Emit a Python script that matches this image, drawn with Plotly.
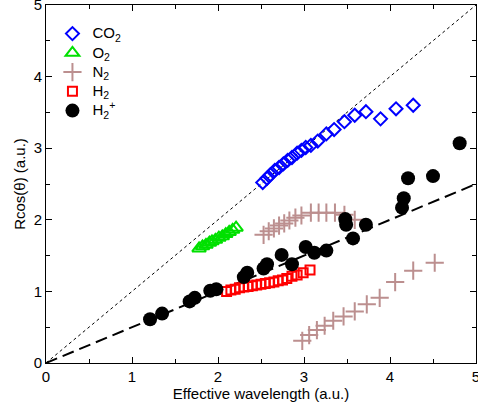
import plotly.graph_objects as go

co2_x = [2.52, 2.57, 2.61, 2.66, 2.71, 2.76, 2.81, 2.86, 2.92, 2.97, 3.02, 3.08, 3.16, 3.26, 3.35, 3.47, 3.59, 3.72, 3.89, 4.07, 4.27]
co2_y = [2.52, 2.58, 2.63, 2.69, 2.73, 2.78, 2.83, 2.87, 2.93, 2.97, 3.01, 3.04, 3.10, 3.20, 3.26, 3.37, 3.46, 3.51, 3.41, 3.55, 3.60]

o2_x = [1.78, 1.82, 1.86, 1.90, 1.93, 1.97, 2.01, 2.05, 2.09, 2.13, 2.17, 2.21]
o2_y = [1.60, 1.63, 1.65, 1.68, 1.70, 1.72, 1.75, 1.77, 1.80, 1.83, 1.86, 1.89]

n2_x = [2.53, 2.59, 2.65, 2.71, 2.77, 2.83, 2.90, 2.97, 3.08, 3.17, 3.26, 3.36, 3.47, 3.59,
        2.98, 3.06, 3.15, 3.24, 3.34, 3.46, 3.59, 3.73, 3.88, 4.06, 4.27, 4.52]
n2_y = [1.79, 1.84, 1.88, 1.92, 1.95, 1.99, 2.03, 2.06, 2.10, 2.10, 2.10, 2.10, 2.07, 2.00,
        0.31, 0.39, 0.46, 0.52, 0.59, 0.65, 0.72, 0.82, 0.91, 1.13, 1.29, 1.40]

h2_x = [2.10, 2.15, 2.20, 2.25, 2.30, 2.35, 2.40, 2.45, 2.50, 2.55, 2.60, 2.65, 2.70, 2.75, 2.80, 2.86, 2.92, 2.99, 3.07]
h2_y = [1.00, 1.02, 1.03, 1.05, 1.06, 1.07, 1.08, 1.09, 1.10, 1.11, 1.12, 1.13, 1.15, 1.16, 1.18, 1.21, 1.23, 1.26, 1.30]

h2p_x = [1.21, 1.35, 1.67, 1.73, 1.91, 1.98, 2.30, 2.34, 2.53, 2.57, 2.74, 2.86, 3.02, 3.12, 3.26, 3.48, 3.49, 3.57, 3.72, 4.14, 4.16, 4.21, 4.50, 4.81]
h2p_y = [0.61, 0.69, 0.86, 0.91, 1.01, 1.03, 1.20, 1.26, 1.32, 1.38, 1.51, 1.38, 1.62, 1.54, 1.57, 2.01, 1.93, 1.74, 1.93, 2.17, 2.30, 2.58, 2.61, 3.07]

tick_vals = [0, 1, 2, 3, 4, 5]
tick_text = ["0", "1", "2", "3", "4", "5"]

ref_x = [0, 5]
slope_dotted = 1.0
slope_dashed = 0.5

font = "Liberation Sans, Arial, sans-serif"


def lg(s):
    return '<span style="font-size:15px">' + s + '</span>'


fig = go.Figure()
fig.add_trace(go.Scatter(x=ref_x, y=[slope_dotted * v for v in ref_x], mode="lines",
                         line=dict(color="black", width=1, dash="dot"), showlegend=False, hoverinfo="skip"))
fig.add_trace(go.Scatter(x=ref_x, y=[slope_dashed * v for v in ref_x], mode="lines",
                         line=dict(color="black", width=2, dash="12px,6px"), showlegend=False, hoverinfo="skip"))

fig.add_trace(go.Scatter(x=co2_x, y=co2_y, mode="markers", name=lg("CO<sub>2</sub>"),
                         marker=dict(symbol="diamond-open", size=10, color="#0000ff", line=dict(width=2, color="#0000ff"))))
fig.add_trace(go.Scatter(x=o2_x, y=o2_y, mode="markers", name=lg("O<sub>2</sub>"),
                         marker=dict(symbol="triangle-up-open", size=12, color="#00e000", line=dict(width=2, color="#00e000"))))
fig.add_trace(go.Scatter(x=n2_x, y=n2_y, mode="markers", name=lg("N<sub>2</sub>"),
                         marker=dict(symbol="cross-thin-open", size=13, color="#bc8f8f", line=dict(width=2, color="#bc8f8f"))))
fig.add_trace(go.Scatter(x=h2_x, y=h2_y, mode="markers", name=lg("H<sub>2</sub>"),
                         marker=dict(symbol="square-open", size=9, color="#ff0000", line=dict(width=2, color="#ff0000"))))
fig.add_trace(go.Scatter(x=h2p_x, y=h2p_y, mode="markers", name=lg("H<sub>2</sub><sup>+</sup>"),
                         marker=dict(symbol="circle", size=14, color="black", line=dict(width=0))))

axis_common = dict(
    showgrid=False, zeroline=False, showline=True, linecolor="black", linewidth=1,
    mirror="allticks", ticks="inside", ticklen=6, tickcolor="black", tickwidth=1,
    tickmode="array", tickvals=tick_vals, ticktext=tick_text,
    tickfont=dict(size=15, family=font, color="black"), automargin=False,
    ticklabeloverflow="allow",
    minor=dict(dtick=0.5, ticks="inside", ticklen=4, tickcolor="black", tickwidth=1),
)

fig.update_xaxes(range=[0, 5], title=dict(text="Effective wavelength (a.u.)", standoff=4,
                                          font=dict(size=15, family=font, color="black")), **axis_common)
fig.update_yaxes(range=[0, 5], title=dict(text="Rcos(θ) (a.u.)", standoff=4,
                                          font=dict(size=15, family=font, color="black")), **axis_common)

fig.update_layout(
    width=478, height=408,
    margin=dict(l=46, r=2, t=5, b=45),
    plot_bgcolor="white", paper_bgcolor="white",
    font=dict(family=font, color="black"),
    legend=dict(x=0.015, y=0.961, xanchor="left", yanchor="top", bgcolor="rgba(0,0,0,0)",
                font=dict(size=12.5, family=font, color="black"), tracegroupgap=0, itemwidth=30),
)

fig.write_html("out.html", config={"displayModeBar": False},
               post_script="document.body.style.margin='0';document.body.style.overflow='hidden';")
